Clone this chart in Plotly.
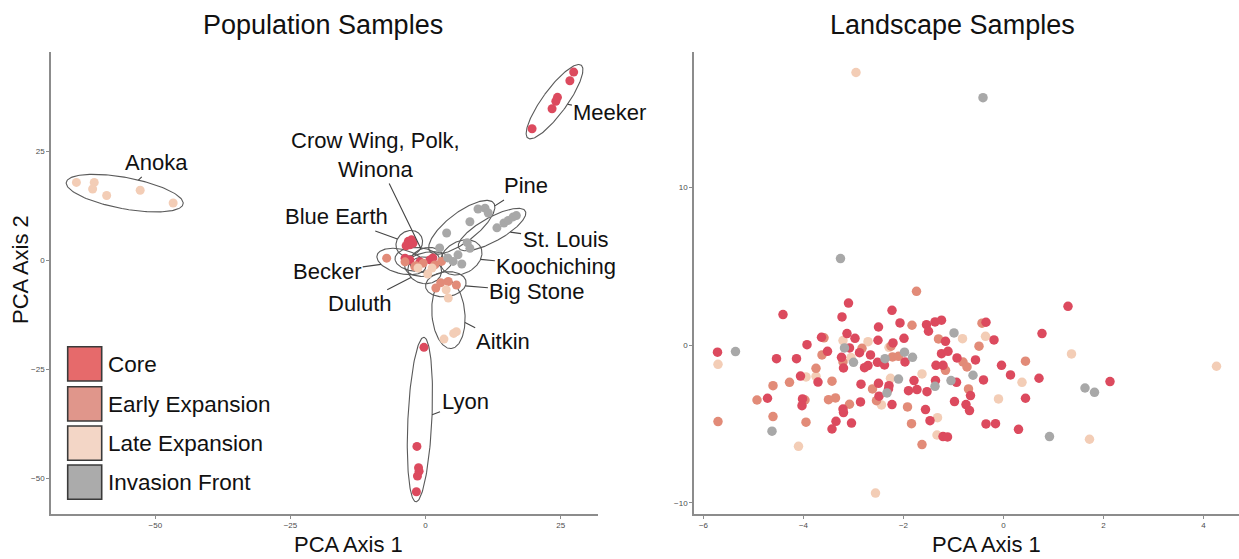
import numpy as np
import plotly.graph_objects as go

W, H = 1239, 559
FONT = "Liberation Sans, Arial, sans-serif"

# ---------------- categories / colours ----------------
categories = ["Core", "Early Expansion", "Late Expansion", "Invasion Front"]
point_colors = ["#dc4a5e", "#e28b78", "#f3cdb6", "#a8a8a8"]
swatch_colors = ["#e66a6b", "#e0968b", "#f3d6c6", "#ababab"]

# ---------------- Population samples (left panel) ----------------
pop_names = ["Anoka", "Meeker", "Lyon", "Aitkin", "Big Stone", "Pine", "St. Louis",
             "Koochiching", "Blue Earth", "Becker", "Duluth", "Crow Wing", "Polk", "Winona"]
pop_category = ["Late Expansion", "Core", "Core", "Late Expansion", "Early Expansion",
                "Invasion Front", "Invasion Front", "Invasion Front", "Core",
                "Early Expansion", "Late Expansion", "Core", "Early Expansion", "Core"]

anoka_x = [-64.6, -61.3, -61.6, -59.0, -52.8, -46.7]
anoka_y = [17.9, 17.9, 16.4, 14.9, 16.1, 13.2]
meeker_x = [27.4, 26.7, 24.4, 24.1, 23.4, 19.7]
meeker_y = [43.2, 41.2, 37.4, 36.5, 34.8, 30.2]
lyon_x = [-0.3, -1.6, -1.3, -1.2, -1.5, -1.7]
lyon_y = [-19.9, -42.6, -47.5, -48.3, -49.4, -53.0]
aitkin_x = [3.8, 4.2, 3.4, 5.7, 5.2]
aitkin_y = [-6.7, -8.6, -18.0, -16.3, -16.7]
bigstone_x = [1.9, 4.2, 5.7, 2.8]
bigstone_y = [-6.3, -4.8, -5.6, -5.1]
pine_x = [9.7, 11.0, 11.6, 8.2, 3.9, 2.6]
pine_y = [11.8, 12.0, 10.9, 8.9, 6.3, 2.9]
stlouis_x = [14.5, 15.3, 16.2, 16.8, 13.2, 7.7]
stlouis_y = [8.6, 9.2, 10.0, 10.3, 7.5, 4.1]
koochiching_x = [6.0, 8.2, 5.1, 6.7, 4.1]
koochiching_y = [1.3, 2.8, -0.2, -0.8, 0.6]
blueearth_x = [-3.2, -2.6, -2.9, -3.6, -2.3]
blueearth_y = [4.4, 4.75, 3.6, 3.4, 4.0]
becker_x = [-7.2, -3.8, -1.8]
becker_y = [0.55, -0.3, -1.2]
duluth_x = [-1.4, 0.4, 1.2]
duluth_y = [-1.7, -3.1, -1.7]
crowwing_x = [-3.8, -2.9, 0.8]
crowwing_y = [0.55, 0.15, 0.15]
polk_x = [-2.0, -0.45, 1.7, 2.95]
polk_y = [-1.4, -0.6, -1.0, -0.2]
winona_x = [-1.05, 1.35]
winona_y = [-0.3, 0.6]

pop_x = [anoka_x, meeker_x, lyon_x, aitkin_x, bigstone_x, pine_x, stlouis_x,
         koochiching_x, blueearth_x, becker_x, duluth_x, crowwing_x, polk_x, winona_x]
pop_y = [anoka_y, meeker_y, lyon_y, aitkin_y, bigstone_y, pine_y, stlouis_y,
         koochiching_y, blueearth_y, becker_y, duluth_y, crowwing_y, polk_y, winona_y]

# label text and label centre (data units of the left panel)
label_text = {
    "Anoka": "Anoka", "Meeker": "Meeker", "Lyon": "Lyon", "Aitkin": "Aitkin",
    "Big Stone": "Big Stone", "Pine": "Pine", "St. Louis": "St. Louis",
    "Koochiching": "Koochiching", "Blue Earth": "Blue Earth", "Becker": "Becker",
    "Duluth": "Duluth", "Winona": "Crow Wing, Polk,<br>Winona",
}
label_pos = {
    "Anoka": (-49.8, 22.4), "Meeker": (34.1, 33.9), "Lyon": (7.3, -32.4),
    "Aitkin": (14.3, -18.6), "Big Stone": (20.6, -7.2), "Pine": (18.5, 17.1),
    "St. Louis": (25.9, 4.75), "Koochiching": (24.2, -1.45), "Blue Earth": (-16.4, 10.0),
    "Becker": (-18.2, -2.6), "Duluth": (-12.1, -9.9), "Winona": (-9.3, 24.2),
}

# ---------------- Landscape samples (right panel) ----------------
land_core_x = [-3.10, 1.29, -4.41, -2.23, -3.23, -2.07, -2.50, -1.54, -1.37, -1.24,
               -0.35, -1.50, -3.13, 0.77, -2.97, -3.64, -2.51, -1.16, -0.19, -3.93,
               -2.21, -3.08, -2.88, -2.66, -1.99, -3.52, -1.24, -1.11, -5.72, -4.54,
               -4.14, -3.24, -0.93, -0.56, -1.97, -2.52, -2.38, -2.71, -2.78, -3.20,
               -1.35, -1.21, -0.04, -4.06, -3.71, -2.85, -2.50, -2.29, -2.30, -1.79,
               -1.36, -1.90, -1.73, -1.53, -0.94, -0.40, 0.14, 0.71, 2.13, -0.66,
               -2.49, -4.72, -4.02, -4.03, -2.86, -3.21, -3.20, -2.23, -1.56, -0.98,
               -0.75, -0.68, 0.44, -3.35, -3.04, -3.43, -1.47, -0.35, -0.16, 0.30,
               -1.21, -1.12]
land_core_y = [2.68, 2.47, 1.95, 2.22, 1.80, 1.42, 1.16, 1.31, 1.48, 1.59,
               1.46, 0.89, 0.74, 0.74, 0.44, 0.51, 0.32, 0.25, 0.34, 0.04,
               0.15, -0.17, -0.47, -0.61, 0.44, -0.38, -0.53, -0.38, -0.44, -0.85,
               -0.85, -0.76, -0.80, -0.93, -1.06, -1.08, -1.25, -1.29, -1.42, -1.44,
               -1.27, -1.27, -1.27, -1.95, -2.33, -2.47, -2.41, -2.56, -2.77, -2.24,
               -2.24, -2.88, -2.81, -2.94, -2.35, -2.20, -1.88, -2.09, -2.30, -3.19,
               -3.23, -3.36, -3.40, -3.83, -3.59, -4.04, -4.27, -3.76, -4.08, -3.57,
               -3.76, -4.14, -3.36, -4.82, -4.93, -5.31, -4.78, -4.99, -4.97, -5.33,
               -5.79, -5.81]
land_early_x = [-1.74, -1.83, -0.43, -3.59, -1.30, -2.25, -0.49, -2.83, -3.63, -3.21,
                -2.22, -2.10, -0.81, 0.44, -3.75, -1.16, -0.73, -3.43, -4.28, -4.61,
                -2.62, -0.70, -4.93, -3.97, -3.50, -3.36, -3.08, -2.54, -1.92, -4.61,
                -5.71, -3.95, -1.84, -1.63]
land_early_y = [3.42, 1.27, 1.40, 0.47, 0.40, -0.06, -0.06, -0.19, -0.61, -1.06,
                -0.74, -0.70, -1.06, -1.01, -1.46, -1.59, -1.37, -2.28, -2.35, -2.56,
                -2.77, -2.77, -3.47, -3.47, -3.45, -3.34, -3.74, -3.51, -3.91, -4.52,
                -4.84, -4.88, -4.97, -6.30]
land_late_x = [-2.95, -0.36, -0.82, -2.71, -3.21, -2.29, -3.05, 1.36, -5.71, 4.26,
               -3.95, -3.75, -2.26, -1.63, 0.37, -2.44, -0.10, -1.32, -1.33, 1.72,
               -4.10, -2.56]
land_late_y = [17.3, 0.57, 0.42, 0.23, 0.30, -0.13, -0.78, -0.55, -1.21, -1.33,
               -2.01, -1.97, -2.09, -1.82, -2.35, -3.78, -3.40, -4.59, -5.69, -5.96,
               -6.41, -9.37]
land_front_x = [-0.41, -3.26, -0.99, -3.18, -1.98, -5.36, -3.00, -2.37, -1.82, -2.10,
                -2.33, -1.37, -1.05, -0.61, 1.63, 1.82, -4.63, 0.92]
land_front_y = [15.7, 5.5, 0.78, -0.17, -0.44, -0.40, -1.08, -0.85, -0.76, -2.14,
                -3.02, -2.60, -2.24, -1.90, -2.71, -2.98, -5.45, -5.79]

# ---------------- axis settings ----------------
left_xticks = [-50, -25, 0, 25]
left_yticks = [-50, -25, 0, 25]
right_xticks = [-6, -4, -2, 0, 2, 4]
right_yticks = [-10, 0, 10]

L_X = (51, 598)      # pixel extent of left plot area
R_X = (694, 1239)
P_Y = (52, 514)
left_xrange = [-69.3, 31.9]
left_yrange = [-58.1, 47.8]
right_xrange = [-6.19, 4.71]
right_yrange = [-10.7, 18.6]

sx = (L_X[1] - L_X[0]) / (left_xrange[1] - left_xrange[0])   # px per unit
sy = (P_Y[1] - P_Y[0]) / (left_yrange[1] - left_yrange[0])


def enclosing_ellipse(xs, ys, pad=10.0, minr=12.0, n=160):
    P = np.column_stack([np.asarray(xs, float) * sx, np.asarray(ys, float) * sy])
    cov = (np.cov(P.T) if len(P) > 1 else np.zeros((2, 2))) + np.eye(2) * 1.0
    vals, vecs = np.linalg.eigh(cov)
    Q = P @ vecs                       # coordinates along principal axes
    lo, hi = Q.min(axis=0), Q.max(axis=0)
    mid = (lo + hi) / 2
    axes = np.maximum((hi - lo) / 2 + pad, minr)
    s = np.max(np.sum(((Q - mid) / axes) ** 2, axis=1))
    if s > 1:
        axes = axes * np.sqrt(s)
    c = vecs @ mid
    t = np.linspace(0, 2 * np.pi, n)
    pts = c + (vecs @ np.vstack([axes[0] * np.cos(t), axes[1] * np.sin(t)])).T
    return pts[:, 0] / sx, pts[:, 1] / sy, c, vecs, axes


def boundary_toward(c, vecs, axes, tx, ty):
    u = np.array([tx * sx, ty * sy]) - c
    u = u / np.linalg.norm(u)
    v = vecs.T @ u
    r = 1.0 / np.sqrt((v[0] / axes[0]) ** 2 + (v[1] / axes[1]) ** 2)
    p = c + r * u
    return p[0] / sx, p[1] / sy


fig = go.Figure()
annotations = []

# ellipses
ell = {}
for name, xs, ys in zip(pop_names, pop_x, pop_y):
    ex, ey, c, vecs, axes = enclosing_ellipse(xs, ys)
    ell[name] = (c, vecs, axes)
    fig.add_trace(go.Scatter(x=ex, y=ey, mode="lines", xaxis="x", yaxis="y",
                             line=dict(color="#5a5a5a", width=1.1),
                             hoverinfo="skip", showlegend=False))

# points per category (left)
for cat, col in zip(categories, point_colors):
    xs, ys = [], []
    for name, cc, px, py in zip(pop_names, pop_category, pop_x, pop_y):
        if cc == cat:
            xs += px
            ys += py
    fig.add_trace(go.Scatter(x=xs, y=ys, mode="markers", xaxis="x", yaxis="y", name=cat,
                             marker=dict(size=9, color=col), showlegend=False))

# labels with leader lines
for name, txt in label_text.items():
    lx, ly = label_pos[name]
    c, vecs, axes = ell[name]
    bx, by = boundary_toward(c, vecs, axes, lx, ly)
    annotations.append(dict(x=bx, y=by, ax=lx, ay=ly, xref="x", yref="y", axref="x", ayref="y",
                            text=txt, showarrow=True, arrowhead=0, arrowwidth=1.1,
                            arrowcolor="#444", standoff=0, startstandoff=0,
                            font=dict(family=FONT, size=22, color="#111"), align="center"))

# right panel points
for xs, ys, col, cat in [(land_late_x, land_late_y, point_colors[2], categories[2]),
                         (land_early_x, land_early_y, point_colors[1], categories[1]),
                         (land_core_x, land_core_y, point_colors[0], categories[0]),
                         (land_front_x, land_front_y, point_colors[3], categories[3])]:
    fig.add_trace(go.Scatter(x=xs, y=ys, mode="markers", xaxis="x2", yaxis="y2", name=cat,
                             marker=dict(size=9.5, color=col), showlegend=False))

# manual legend
shapes = []
box_top = [346.7, 386.7, 426.0, 465.0]
for i, (cat, col) in enumerate(zip(categories, swatch_colors)):
    y0 = box_top[i]
    y1 = y0 + 34.3
    shapes.append(dict(type="rect", xref="paper", yref="paper",
                       x0=67.7 / W, x1=101.7 / W, y0=1 - y1 / H, y1=1 - y0 / H,
                       fillcolor=col, line=dict(color="#3a3a3a", width=1.6)))
    annotations.append(dict(x=106 / W, y=1 - (y0 + 17.5) / H, xref="paper", yref="paper",
                            text=cat, showarrow=False, xanchor="left", yanchor="middle",
                            font=dict(family=FONT, size=22.5, color="#111")))

# titles and axis titles
for txt, xc, yc, size, ang in [("Population Samples", 323, 25, 27, 0),
                               ("Landscape Samples", 952, 25, 27, 0),
                               ("PCA Axis 1", 348, 544, 22, 0),
                               ("PCA Axis 1", 986, 544, 22, 0),
                               ("PCA Axis 2", 20, 270, 22, -90)]:
    annotations.append(dict(x=xc / W, y=1 - yc / H, xref="paper", yref="paper", text=txt,
                            showarrow=False, xanchor="center", yanchor="middle", textangle=ang,
                            font=dict(family=FONT, size=size, color="#111")))

axis_common = dict(showgrid=False, zeroline=False, showline=True, linecolor="#8c8c8c",
                   linewidth=1.5, ticks="outside", ticklen=3, tickcolor="#8c8c8c",
                   tickfont=dict(family=FONT, size=8, color="#4d4d4d"), fixedrange=True)

fig.update_layout(
    width=W, height=H, margin=dict(l=0, r=0, t=0, b=0),
    paper_bgcolor="white", plot_bgcolor="white", showlegend=False,
    xaxis=dict(domain=[L_X[0] / W, L_X[1] / W], range=left_xrange, tickvals=left_xticks,
               anchor="y", **axis_common),
    yaxis=dict(domain=[1 - P_Y[1] / H, 1 - P_Y[0] / H], range=left_yrange,
               tickvals=left_yticks, anchor="x", **axis_common),
    xaxis2=dict(domain=[R_X[0] / W, R_X[1] / W], range=right_xrange, tickvals=right_xticks,
                anchor="y2", **axis_common),
    yaxis2=dict(domain=[1 - P_Y[1] / H, 1 - P_Y[0] / H], range=right_yrange,
                tickvals=right_yticks, anchor="x2", **axis_common),
    annotations=annotations, shapes=shapes,
)

fig.write_html("out.html", config={"displayModeBar": False})

# remove the default page margin so the figure sits at the window's top-left corner
with open("out.html", encoding="utf-8") as f:
    html = f.read()
html = html.replace("<head>", "<head><style>html,body{margin:0;padding:0;overflow:hidden;}</style>", 1)
with open("out.html", "w", encoding="utf-8") as f:
    f.write(html)
